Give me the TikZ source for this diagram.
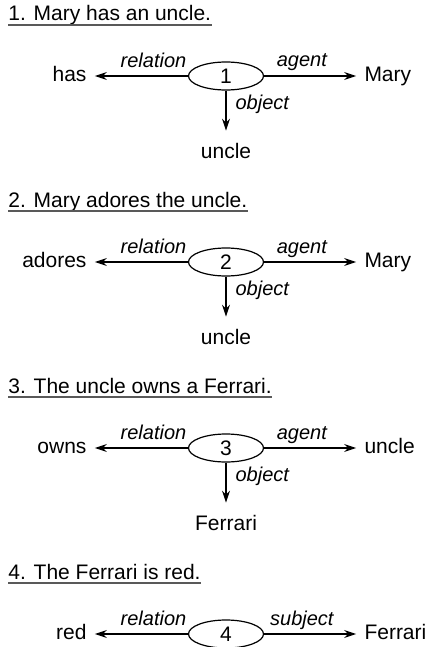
\documentclass[tikz,border=0pt]{standalone}
\usepackage{fontspec}
\setmainfont{Liberation Sans}
\usetikzlibrary{positioning,shapes.geometric,arrows.meta}
\tikzset{
  frame/.style={draw,ellipse,line width=0.6pt,minimum width=37.5pt,
    minimum height=14pt,inner sep=0pt},
  word/.style={inner xsep=4pt,inner ysep=6pt,text height=7.5pt,text depth=2pt},
  role/.style={font=\itshape,inner sep=0pt},
  arc/.style={line width=0.6pt,-{Stealth[length=6pt,width=4pt,inset=2pt]}},
  heading/.style={inner sep=0pt,anchor=base west},
}
\begin{document}
\begin{tikzpicture}[x=0.5pt,y=0.5pt,font=\fontsize{10.5}{12.6}\selectfont]
            \useasboundingbox (0,0) rectangle (427,-647);
            % one frame per sentence
            \foreach \n/\sent/\head/\kind/\tail in
                {1/Mary has an uncle./has/agent/Mary,
                 2/Mary adores the uncle./adores/agent/Mary,
                 3/The uncle owns a Ferrari./owns/agent/uncle,
                 4/The Ferrari is red./red/subject/Ferrari}
            {\pgfmathsetmacro\yc{-76-186*(\n-1)}
             \node[frame] (c\n) at (226,\yc) {\n};
             \node[heading] (t\n) at (8,\yc+55) {\n. \sent};
             \draw[gray!70!black,line width=0.7pt]
                ([yshift=-2pt]t\n.base west)--([yshift=-2pt]t\n.base east);
             \node[word,left=46.5pt of c\n] (h\n) {\head};
             \node[word,right=46pt of c\n] (w\n) {\tail};
             \draw[arc] (c\n)--(h\n)
                node[role,pos=0,anchor=base east,xshift=-0.5pt,yshift=4.25pt] {relation};
             \draw[arc] (c\n)--(w\n)
                node[role,pos=0.41,anchor=base,yshift=4.5pt] {\kind};}
            % object arms
            \foreach \n/\obj in {1/uncle,2/uncle,3/Ferrari}
            {\node[word,below=20pt of c\n] (o\n) {\obj};
             \draw[arc] (c\n)--(o\n)
                node[role,pos=0.475,anchor=base west,xshift=4.5pt] {object};}
\end{tikzpicture}
\end{document}
